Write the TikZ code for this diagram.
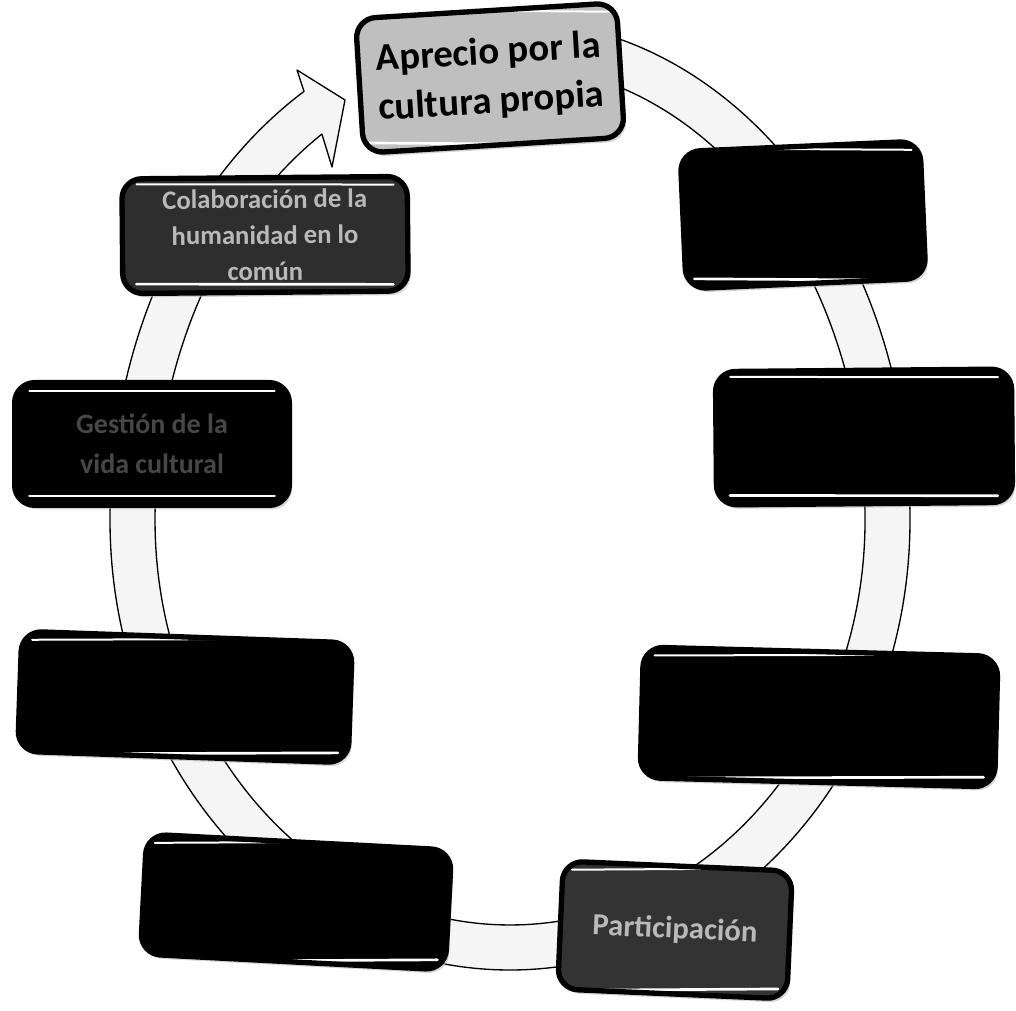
\documentclass[tikz,border=0pt]{standalone}
\usepackage{fontspec}
\setmainfont{Carlito}
\usetikzlibrary{shadows}
\tikzset{
  cbox/.style={draw=black, line width=4pt, rounded corners=15pt, fill=black,
    inner sep=0pt, align=center, font=\bfseries,
    drop shadow={fill=gray!55, opacity=0.6, shadow xshift=2pt, shadow yshift=-3pt},
    path picture={
      \draw[white, line width=1.5pt, line cap=round]
        ([xshift=11pt,yshift=-6pt]path picture bounding box.north west) --
        ([xshift=-11pt,yshift=-6pt]path picture bounding box.north east);
      \draw[white, line width=2pt, line cap=round]
        ([xshift=11pt,yshift=7pt]path picture bounding box.south west) --
        ([xshift=-11pt,yshift=7pt]path picture bounding box.south east);
    }},
  ringband/.style={fill=gray!8, draw=black, line width=1pt, line join=round}
}
\begin{document}
\begin{tikzpicture}[x=0.75pt, y=0.75pt]
\useasboundingbox (0,0) rectangle (1016,1010);
\fill[white] (0,0) rectangle (1016,1010);

% circular arrow band
\draw[ringband] (304,918.6) -- (297,940) -- (345,910) -- (332,843) -- (321.9,875.9)
  arc[start angle=122, end angle=180, x radius=355, y radius=455]
  arc[start angle=180, end angle=360, x radius=355, y radius=405]
  arc[start angle=0, end angle=80, x radius=355, y radius=455]
  -- ({510+400*cos(80)},{490+500*sin(80)})
  arc[start angle=80, end angle=0, x radius=400, y radius=500]
  arc[start angle=360, end angle=180, x radius=400, y radius=450]
  arc[start angle=180, end angle=121, x radius=400, y radius=500]
  -- cycle;

% boxes
\node[cbox, fill=gray!50, minimum width=196pt, minimum height=101pt, rotate=3.5,
  font=\bfseries\fontsize{29}{37}\selectfont] (b1) at (490,932)
  {Aprecio por la\\cultura propia};
\node[cbox, minimum width=180pt, minimum height=103pt, rotate=2.5] (b2) at (803,795) {};
\node[cbox, minimum width=222pt, minimum height=100pt, rotate=0.5] (b3) at (864,573) {};
\node[cbox, minimum width=266pt, minimum height=98pt, rotate=-1.5] (b4) at (819,293) {};
\node[cbox, fill=black!80, minimum width=172pt, minimum height=96pt, rotate=-2.5,
  text=gray!55, font=\bfseries\fontsize{23}{27}\selectfont] (b5) at (675,80)
  {Participación};
\node[cbox, minimum width=229pt, minimum height=90pt, rotate=-3] (b6) at (296,108) {};
\node[cbox, minimum width=248pt, minimum height=90pt, rotate=-2] (b7) at (185,313) {};
\node[cbox, minimum width=206pt, minimum height=92pt, rotate=0,
  text=black!72, font=\bfseries\fontsize{21}{30}\selectfont] (b8) at (152,566)
  {Gestión de la\\vida cultural};
\node[cbox, fill=black!82, minimum width=214pt, minimum height=86pt, rotate=0.5,
  text=gray!55, font=\bfseries\fontsize{20}{27}\selectfont] (b9) at (265,775)
  {Colaboración de la\\humanidad en lo\\común};
\end{tikzpicture}
\end{document}
